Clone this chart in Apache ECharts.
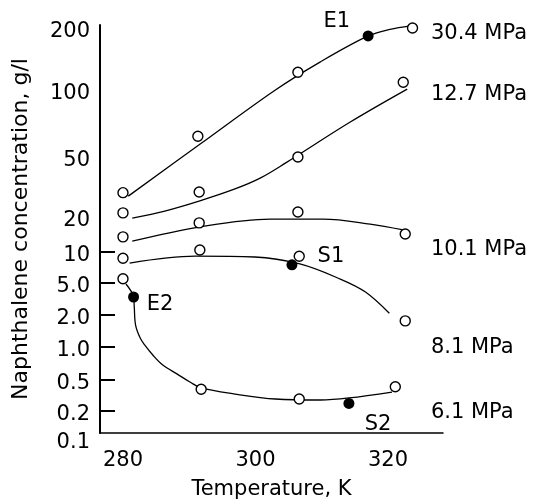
<!DOCTYPE html>
<html>
<head>
<meta charset="utf-8">
<script src="https://cdn.jsdelivr.net/npm/echarts@6/dist/echarts.min.js"></script>
<style>
  html, body { margin: 0; padding: 0; background: #fff; }
  #chart { width: 535px; height: 502px; }
</style>
</head>
<body>
<div id="chart"></div>
<script>
// Tick labels of the concentration axis and the values they stand for
const yTickLabels = ['0.1', '0.2', '0.5', '1.0', '2.0', '5.0', '10', '20', '50', '100', '200'];
const yTickValues = [0.1, 0.2, 0.5, 1, 2, 5, 10, 20, 50, 100, 200];
// The printed axis is hand-ruled: each tick sits at its own offset from the bottom
const yTickOffsets = [0, 22, 53, 86, 118, 150, 181, 216, 276, 343, 405];
const yLowerTicks = [0.2, 0.5, 1, 2, 5, 10];

const xTickValues = [280, 300, 320];
const xMin = 276.53, xMax = 328.3;

// Measured points [T (K), concentration (g/l)]
const open304 = [[280, 29], [291.3, 62], [306.4, 122], [323.7, 200]];
const open127 = [[280, 21.3], [291.5, 29.3], [306.4, 50], [322.3, 109]];
const open101 = [[280, 13.5], [291.5, 17.8], [306.4, 21.6], [322.6, 14.3]];
const open81 = [[280, 8.7], [291.6, 10.4], [306.6, 9.1], [322.6, 1.76]];
const open61 = [[280, 5.5], [291.8, 0.38], [306.6, 0.285], [321.1, 0.41]];

// Marked states E1, S1, E2, S2
const filledPts = [[317.0, 183], [305.5, 7.5], [281.6, 3.35], [314.1, 0.25]];

// Fitted curves
const curve304 = [[280.8, 27.5], [291.6, 57], [303, 100], [309.8, 137], [317, 183], [320.3, 197], [323.4, 205]];
const curve127 = [[281.4, 19.6], [286.3, 21.9], [291.6, 25.6], [296.9, 30.7], [300.7, 36.2], [304.5, 45.5], [314.3, 71.8], [322.9, 101]];
const curve101 = [[281.4, 12.4], [291.5, 16.4], [302.2, 19.2], [310.2, 19.2], [317.3, 17.4], [322.3, 15.5]];
const curve81 = [[281, 7.8], [290.9, 9.1], [299.9, 8.94], [306.7, 7.65], [312.8, 5.46], [316.6, 3.86], [320.2, 2.1]];
const curve61 = [[280.45, 4.86], [281.6, 3.35], [281.7, 2.51], [281.9, 1.61], [282.6, 1.215], [283.3, 1.04], [284.5, 0.845], [286.0, 0.685], [288.2, 0.566], [290.1, 0.472], [291.8, 0.395], [296.9, 0.33], [303, 0.285], [309.8, 0.277], [314.1, 0.294], [320.6, 0.35]];

// Text notes [T, concentration, text]
const pressureNotes = [[326.4, 189, '30.4 MPa'], [326.4, 95, '12.7 MPa'], [326.4, 10.4, '10.1 MPa'], [326.4, 0.98, '8.1 MPa'], [326.4, 0.188, '6.1 MPa']];
const stateNotes = [[310.2, 216, 'E1'], [309.3, 9.1, 'S1'], [283.5, 2.66, 'E2']];
const bottomNotes = [[318.5, 0.131, 'S2']];

// Map a concentration onto the hand-ruled axis (log-interpolated between ticks)
function toAxis(v) {
  const n = yTickValues.length;
  let i = 0;
  if (v >= yTickValues[n - 1]) i = n - 2;
  else {
    while (i < n - 2 && v > yTickValues[i + 1]) i++;
  }
  const a = yTickValues[i], b = yTickValues[i + 1];
  const t = Math.log(v / a) / Math.log(b / a);
  return yTickOffsets[i] + t * (yTickOffsets[i + 1] - yTickOffsets[i]);
}
const mapPts = pts => pts.map(p => [p[0], toAxis(p[1])]);
const mapNotes = notes => notes.map(p => ({ value: [p[0], toAxis(p[1])], name: p[2] }));

const FONT = 'DejaVu Sans';
const INK = '#000';
const TICK_LEN_K = 15 * (xMax - xMin) / 343; // 15 px inward tick, in kelvin

const curveSeries = [curve304, curve127, curve101, curve81, curve61].map(c => ({
  type: 'line',
  data: mapPts(c),
  smooth: 0.35,
  showSymbol: false,
  symbol: 'none',
  lineStyle: { color: INK, width: 1.3 },
  silent: true,
  z: 2
}));

// Inward tick marks on the lower decades of the concentration axis
curveSeries[0].markLine = {
  silent: true,
  symbol: ['none', 'none'],
  animation: false,
  label: { show: false },
  emphasis: { disabled: true },
  lineStyle: { color: INK, width: 2, type: 'solid', opacity: 1 },
  data: yLowerTicks.map(v => [
    { coord: [xMin, toAxis(v)] },
    { coord: [xMin + TICK_LEN_K, toAxis(v)] }
  ])
};

const openSeries = {
  type: 'scatter',
  data: mapPts([].concat(open304, open127, open101, open81, open61)),
  symbol: 'circle',
  symbolSize: 10,
  itemStyle: { color: '#fff', borderColor: INK, borderWidth: 1.4, opacity: 1 },
  z: 3
};

const filledSeries = {
  type: 'scatter',
  data: mapPts(filledPts),
  symbol: 'circle',
  symbolSize: 11,
  itemStyle: { color: INK, opacity: 1 },
  z: 4
};

function noteSeries(notes, position) {
  return {
    type: 'scatter',
    data: mapNotes(notes),
    symbolSize: 1,
    itemStyle: { color: 'transparent', opacity: 1 },
    clip: false,
    silent: true,
    label: {
      show: true,
      position: position,
      distance: 0,
      formatter: p => p.name,
      color: INK,
      opacity: 1,
      fontFamily: FONT,
      fontSize: 21
    },
    z: 5
  };
}

const tickText = { color: INK, fontFamily: FONT, fontSize: 21 };

const chart = echarts.init(document.getElementById('chart'), null, { renderer: 'canvas' });
chart.setOption({
  animation: false,
  backgroundColor: '#fff',
  grid: { left: 100, right: 92, top: 25, bottom: 69, containLabel: false, outerBoundsMode: 'none' },
  xAxis: {
    type: 'value',
    min: xMin,
    max: xMax,
    name: 'Temperature, K',
    nameLocation: 'middle',
    nameGap: 46,
    nameTextStyle: { color: INK, fontFamily: FONT, fontSize: 21 },
    axisLine: { show: true, onZero: false, lineStyle: { color: INK, width: 1.5 } },
    axisTick: { show: false },
    splitLine: { show: false },
    axisLabel: Object.assign({ customValues: xTickValues, margin: 17 }, tickText)
  },
  yAxis: {
    type: 'value',
    min: 0,
    max: 408,
    name: 'Naphthalene concentration, g/l',
    nameLocation: 'middle',
    nameGap: 68,
    nameTextStyle: { color: INK, fontFamily: FONT, fontSize: 22 },
    axisLine: { show: true, lineStyle: { color: INK, width: 2 } },
    axisTick: { show: false },
    splitLine: { show: false },
    axisLabel: Object.assign({
      customValues: yTickValues.map(toAxis),
      margin: 10,
      formatter: function (val) {
        let best = 0;
        yTickValues.forEach((v, i) => {
          if (Math.abs(toAxis(v) - val) < Math.abs(toAxis(yTickValues[best]) - val)) best = i;
        });
        return (best === 0 ? '{low|' : '{n|') + yTickLabels[best] + '}';
      },
      rich: {
        n: Object.assign({ padding: [8, 0, 0, 0] }, tickText),
        low: Object.assign({ padding: [20, 0, 0, 0] }, tickText)
      }
    }, tickText)
  },
  series: curveSeries.concat([
    openSeries,
    filledSeries,
    noteSeries(pressureNotes, 'right'),
    noteSeries(stateNotes, 'right'),
    noteSeries(bottomNotes, 'inside')
  ])
});
</script>
</body>
</html>
